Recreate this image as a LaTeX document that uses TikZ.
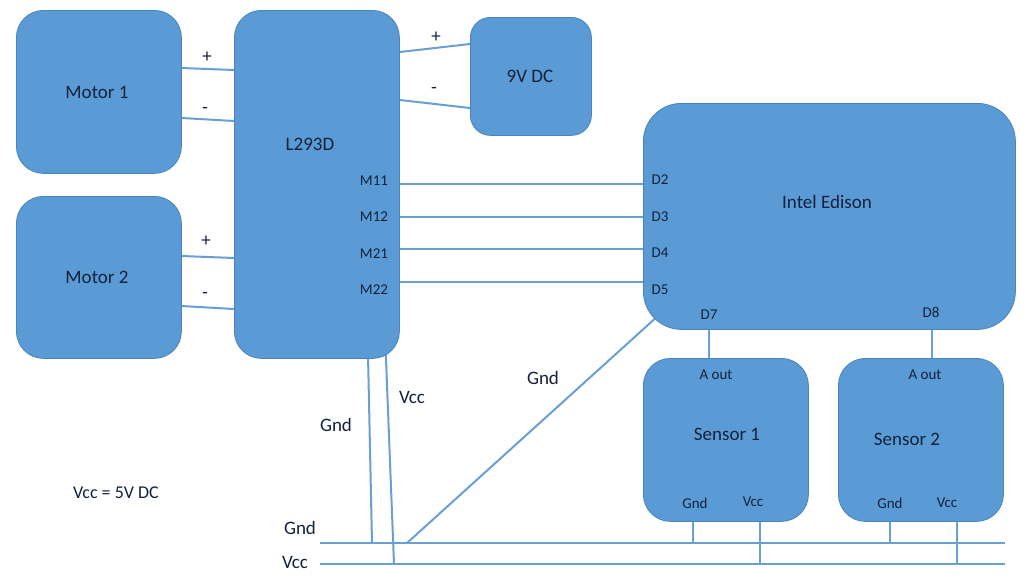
\documentclass[tikz,border=0pt]{standalone}
\usepackage{fontspec}
\setmainfont{Carlito}
\usetikzlibrary{backgrounds,calc}
\definecolor{fillb}{HTML}{5B9BD5}
\definecolor{edgeb}{HTML}{4A84BE}
\definecolor{wire}{HTML}{6A9FD4}
\definecolor{ink}{HTML}{13213D}
\begin{document}
\begin{tikzpicture}[x=1pt,y=-1pt,
  blk/.style={draw=edgeb, line width=0.8pt, fill=fillb, anchor=north west, inner sep=0pt},
  wireline/.style={draw=wire, line width=2pt},
  lbl/.style={text=ink, font=\fontsize{19}{21}\selectfont, inner sep=0pt},
  sm/.style={text=ink, font=\fontsize{15}{17}\selectfont, inner sep=0pt}]
\useasboundingbox (0,0) rectangle (1033,582);
% blocks
\node[blk, rounded corners=27pt, minimum width=165pt, minimum height=163pt] (m1) at (16,10) {};
\node[blk, rounded corners=27pt, minimum width=165pt, minimum height=162pt] (m2) at (16,196) {};
\node[blk, rounded corners=27pt, minimum width=165pt, minimum height=348pt] (drv) at (234,10) {};
\node[blk, rounded corners=20pt, minimum width=121pt, minimum height=118pt] (bat) at (470,17) {};
\node[blk, rounded corners=38pt, minimum width=372pt, minimum height=226pt] (ed) at (643,103) {};
\node[blk, rounded corners=27pt, minimum width=165pt, minimum height=163pt] (s1) at (643,358) {};
\node[blk, rounded corners=27pt, minimum width=165pt, minimum height=163pt] (s2) at (838,358) {};
% bus end points
\coordinate (gndL) at (320,543);
\coordinate (gndR) at (1005,543);
\coordinate (vccL) at (320,564);
\coordinate (vccR) at (1005,564);
\begin{scope}[on background layer]
  \draw[wireline] (m1.east |- 0,68) -- (drv.west |- 0,70);
  \draw[wireline] (m1.east |- 0,118) -- (drv.west |- 0,121);
  \draw[wireline] (m2.east |- 0,256) -- (drv.west |- 0,258);
  \draw[wireline] (m2.east |- 0,306) -- (drv.west |- 0,309);
  \draw[wireline] (drv.east |- 0,52) -- (bat.west |- 0,44);
  \draw[wireline] (drv.east |- 0,100) -- (bat.west |- 0,108);
  \draw[wireline] (drv.east |- 0,184) -- (ed.west |- 0,184);
  \draw[wireline] (drv.east |- 0,217) -- (ed.west |- 0,217);
  \draw[wireline] (drv.east |- 0,249) -- (ed.west |- 0,249);
  \draw[wireline] (drv.east |- 0,282) -- (ed.west |- 0,282);
  \draw[wireline] (ed.south -| 709,0) -- (s1.north -| 709,0);
  \draw[wireline] (ed.south -| 932,0) -- (s2.north -| 932,0);
  \draw[wireline] (gndL) -- (gndR);
  \draw[wireline] (vccL) -- (vccR);
  \draw[wireline] ($(drv.south -| 368,0)+(0,-4)$) -- (gndL -| 372,0);
  \draw[wireline] ($(drv.south -| 385.6,0)+(0,-10)$) -- (vccL -| 394,0);
  \draw[wireline] (gndL -| 407,0) -- ($(ed.south west)+(14,-13)$);
  \draw[wireline] (s1.south -| 693,0) -- (gndL -| 693,0);
  \draw[wireline] (s1.south -| 760,0) -- (vccL -| 760,0);
  \draw[wireline] (s2.south -| 890,0) -- (gndL -| 890,0);
  \draw[wireline] (s2.south -| 957,0) -- (vccL -| 957,0);
\end{scope}
% block titles
\node[lbl] (tm1) at (97,92) {Motor 1};
\node[lbl] (tm2) at (97,277) {Motor 2};
\node[lbl] (tdrv) at (310,144) {L293D};
\node[lbl] (tbat) at (530,76) {9V DC};
\node[lbl] (ted) at (827,202) {Intel Edison};
\node[lbl] (ts1) at (727,434) {Sensor 1};
\node[lbl] (ts2) at (907,439) {Sensor 2};
% polarity
\node[lbl] (p1) at (207,57) {+};
\node[lbl] (n1) at (205,110) {-};
\node[lbl] (p2) at (206,241) {+};
\node[lbl] (n2) at (205,295) {-};
\node[lbl] (p3) at (436,37) {+};
\node[lbl] (n3) at (434,90) {-};
% pins
\node[sm] (pm11) at (374,181) {M11};
\node[sm] (pm12) at (374,217) {M12};
\node[sm] (pm21) at (374,254) {M21};
\node[sm] (pm22) at (374,290) {M22};
\node[sm] (pd2) at (660,180) {D2};
\node[sm] (pd3) at (660,217) {D3};
\node[sm] (pd4) at (660,253) {D4};
\node[sm] (pd5) at (660,290) {D5};
\node[sm] (pd7) at (709,315) {D7};
\node[sm] (pd8) at (931,312) {D8};
\node[sm] (a1) at (716,375) {A out};
\node[sm] (a2) at (925,375) {A out};
\node[sm] (g1) at (695,503) {Gnd};
\node[sm] (v1) at (753,502) {Vcc};
\node[sm] (g2) at (890,503) {Gnd};
\node[sm] (v2) at (947,503) {Vcc};
% wire labels
\node[lbl] (lg1) at (336,425) {Gnd};
\node[lbl] (lv1) at (412,397) {Vcc};
\node[lbl] (lg2) at (543,378) {Gnd};
\node[lbl] (lgb) at (300,528) {Gnd};
\node[lbl] (lvb) at (295,562) {Vcc};
\node[lbl, font=\fontsize{18}{20}\selectfont] (note) at (116,493) {Vcc = 5V DC};
\end{tikzpicture}
\end{document}
